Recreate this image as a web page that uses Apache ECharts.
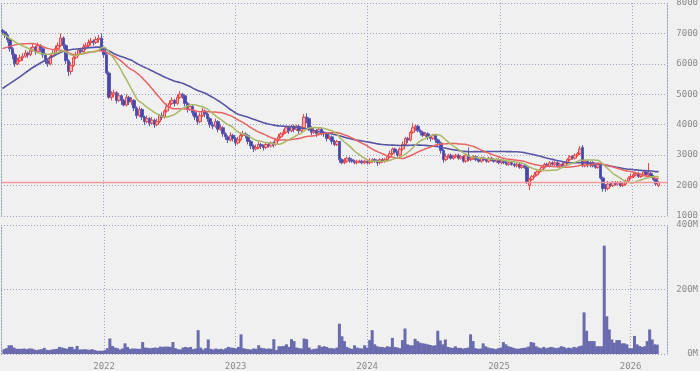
<!DOCTYPE html>
<html><head><meta charset="utf-8">
<script src="https://cdn.jsdelivr.net/npm/echarts@6/dist/echarts.min.js"></script>
<style>html,body{margin:0;padding:0;background:#f0f0f0}#c{width:700px;height:371px}</style>
</head><body><div id="c"></div>
<script>
// weekly candles [open, close, low, high]
const ohlc = [
[7100,7050,6950,7150],[7050,6950,6850,7100],[6950,6800,6700,7000],[6800,6500,6400,6850],[6500,6300,6150,6550],
[6300,6000,5900,6350],[6000,6100,5950,6200],[6100,6200,6050,6300],[6200,6250,6100,6350],[6250,6350,6200,6450],
[6350,6300,6200,6400],[6300,6450,6250,6550],[6450,6550,6400,6650],[6550,6400,6300,6600],[6400,6600,6350,6700],
[6600,6500,6400,6650],[6500,6300,6200,6550],[6300,6100,6000,6350],[6100,6000,5900,6150],[6000,6250,5950,6300],
[6250,6350,6200,6450],[6350,6500,6300,6600],[6500,6600,6450,6700],[6600,6850,6550,7000],[6850,6600,6500,6900],
[6600,6100,6000,6650],[6100,5750,5600,6150],[5750,5950,5650,6050],[5950,6200,5900,6300],[6200,6300,6150,6400],
[6300,6450,6250,6500],[6450,6400,6300,6500],[6400,6550,6350,6650],[6550,6600,6450,6700],[6600,6700,6550,6800],
[6700,6750,6600,6850],[6750,6700,6600,6800],[6700,6800,6650,6900],[6800,6850,6700,6950],[6850,6450,6400,7000],
[6450,6300,6200,6500],[6300,5700,5650,6350],[5700,4900,4850,5750],[4900,5000,4800,5100],[5000,5050,4900,5150],
[5050,4800,4700,5100],[4800,4950,4750,5050],[4950,4800,4650,5000],[4800,4650,4600,4850],[4650,4900,4600,5000],
[4900,4750,4650,4950],[4750,4800,4650,4900],[4800,4550,4450,4850],[4550,4300,4200,4600],[4300,4500,4250,4600],
[4500,4250,4150,4550],[4250,4100,4000,4300],[4100,4200,4050,4300],[4200,4050,3950,4250],[4050,4150,4000,4250],
[4150,4000,3900,4200],[4000,4100,3950,4200],[4100,4300,4050,4350],[4300,4250,4150,4400],[4250,4450,4200,4500],
[4450,4600,4400,4700],[4600,4700,4550,4800],[4700,4800,4650,4900],[4800,4700,4600,4850],[4700,4900,4650,5000],
[4900,5000,4850,5100],[5000,4950,4850,5050],[4950,4700,4600,5000],[4700,4500,4400,4750],[4500,4600,4450,4700],
[4600,4400,4300,4650],[4400,4250,4150,4450],[4250,4100,4000,4300],[4100,4300,4050,4400],[4300,4450,4250,4550],
[4450,4350,4250,4500],[4350,4200,4100,4400],[4200,4000,3900,4250],[4000,3950,3850,4100],[3950,4100,3900,4200],
[4100,3850,3750,4150],[3850,3900,3800,4000],[3900,3700,3600,3950],[3700,3600,3500,3750],[3600,3500,3400,3650],
[3500,3650,3450,3750],[3650,3550,3450,3700],[3550,3400,3300,3600],[3400,3500,3350,3600],[3500,3650,3450,3750],
[3650,3700,3600,3800],[3700,3650,3550,3750],[3650,3450,3350,3700],[3450,3300,3200,3500],[3300,3200,3100,3350],
[3200,3250,3150,3350],[3250,3350,3200,3450],[3350,3300,3200,3400],[3300,3250,3150,3350],[3250,3350,3200,3400],
[3350,3300,3250,3400],[3300,3400,3250,3450],[3400,3350,3250,3450],[3350,3500,3300,3550],[3500,3600,3450,3700],
[3600,3700,3550,3750],[3700,3750,3650,3850],[3750,3900,3700,3950],[3900,3800,3700,3950],[3800,3950,3750,4000],
[3950,3850,3750,4000],[3850,3950,3800,4000],[3950,3800,3700,4000],[3800,3900,3750,3950],[3900,4250,3850,4350],
[4250,4200,4050,4380],[4200,3900,3800,4250],[3900,3750,3650,3950],[3750,3800,3700,3900],[3800,3700,3600,3850],
[3700,3850,3650,3900],[3850,3750,3650,3900],[3750,3700,3600,3800],[3700,3550,3450,3750],[3550,3600,3500,3650],
[3600,3450,3350,3650],[3450,3350,3300,3500],[3350,3450,3300,3500],[3450,2850,2750,3450],[2850,2750,2700,2900],
[2750,2800,2700,2900],[2800,2900,2750,2950],[2900,2850,2750,2950],[2850,2800,2750,2900],[2800,2750,2700,2850],
[2750,2800,2700,2850],[2780,2800,2750,2850],[2800,2750,2700,2850],[2750,2800,2700,2850],[2800,2750,2700,2850],
[2750,2800,2700,2900],[2800,2850,2750,2900],[2850,2800,2750,2900],[2800,2750,2650,2850],[2750,2850,2700,2900],
[2850,2800,2750,2900],[2800,2850,2750,2900],[2850,2950,2800,3000],[2950,3050,2900,3150],[3050,3200,3000,3250],
[3200,3100,3050,3250],[3100,3000,2950,3150],[3000,3200,2950,3250],[3200,3350,3150,3450],[3350,3550,3300,3600],
[3550,3500,3400,3600],[3500,3750,3450,3800],[3750,3900,3700,4050],[3900,3950,3800,4000],[3950,3800,3750,4000],
[3800,3750,3650,3850],[3750,3650,3600,3800],[3650,3700,3600,3750],[3700,3600,3500,3750],[3600,3550,3450,3650],
[3550,3650,3500,3700],[3650,3500,3400,3700],[3500,3400,3300,3550],[3400,3150,3050,3450],[3150,2850,2750,3200],
[2850,2950,2800,3050],[2950,3000,2900,3050],[3000,2900,2850,3050],[2900,2950,2850,3000],[2950,3000,2900,3050],
[3000,2900,2850,3050],[2900,2950,2850,3000],[2950,2800,2750,3000],[2800,3000,2750,3050],[3000,2850,2800,3250],
[2850,2900,2800,2950],[2900,2950,2850,3000],[2950,2850,2800,3000],[2850,2800,2750,2900],[2800,2900,2750,2950],
[2900,2850,2800,2950],[2850,2800,2750,2900],[2800,2900,2750,2950],[2900,2850,2800,2950],[2850,2800,2750,2900],
[2800,2850,2750,2900],[2850,2750,2700,2900],[2750,2800,2700,2850],[2800,2750,2700,2850],[2750,2700,2650,2800],
[2700,2750,2650,2800],[2750,2700,2650,2800],[2700,2650,2600,2750],[2650,2700,2600,2750],[2700,2600,2550,2750],
[2600,2650,2550,2700],[2650,2600,2550,2700],[2600,2100,2050,2650],[2000,2200,1850,2250],[2200,2300,2150,2350],
[2300,2350,2250,2450],[2350,2450,2300,2500],[2450,2500,2400,2550],[2500,2600,2450,2650],[2600,2700,2550,2750],
[2700,2650,2600,2750],[2650,2750,2600,2800],[2750,2700,2650,2800],[2700,2750,2650,2800],[2750,2650,2600,2800],
[2650,2700,2600,2750],[2700,2650,2600,2750],[2650,2750,2600,2800],[2750,2850,2700,2900],[2850,2950,2800,3000],
[2950,2900,2850,3000],[2900,3000,2850,3050],[3000,3050,2950,3100],[3050,3200,3000,3300],[3250,2650,2600,3330],
[2650,2800,2600,2850],[2800,2700,2600,2850],[2700,2750,2600,2800],[2750,2650,2600,2800],[2650,2600,2550,2700],
[2600,2700,2550,2750],[2700,2250,2200,2750],[2250,1900,1800,2300],[1950,1900,1800,2050],[1900,2050,1850,2150],
[2050,2000,1950,2100],[2000,2100,1950,2150],[2100,2050,2000,2150],[2050,2100,2000,2150],[2100,2000,1950,2150],
[2000,2050,1950,2100],[2050,2150,2000,2200],[2150,2250,2100,2300],[2250,2300,2200,2400],[2300,2350,2250,2450],
[2350,2400,2300,2450],[2400,2300,2250,2450],[2300,2350,2250,2400],[2350,2450,2300,2500],[2450,2350,2300,2500],
[2350,2400,2300,2740],[2400,2300,2250,2450],[2300,2200,2150,2350],[2200,2050,2000,2250],[2000,2100,1950,2150]
];
// weekly volume, millions
const volumes = [
15,18,27,27,20,16,16,16,17,15, 17,17,14,12,14,15,19,13,12,14, 15,16,22,20,18,16,22,22,15,25,
14,14,15,14,13,15,12,10,10,10, 12,18,48,25,20,18,14,17,33,22, 16,17,17,16,16,37,20,19,18,19,
20,19,23,22,23,23,22,37,18,15, 14,20,22,20,22,15,17,74,20,14, 18,45,16,14,17,15,16,14,18,22,
20,19,17,22,61,18,16,15,14,17, 16,27,19,18,16,17,16,46,12,24, 24,25,30,22,46,40,20,18,17,48,
46,20,14,16,17,27,22,24,22,18, 18,17,20,94,55,40,22,18,16,27, 20,18,17,27,20,43,74,30,24,22,
22,20,24,22,50,22,20,18,43,79, 30,27,27,47,40,35,33,32,30,28, 26,27,72,42,30,45,22,20,19,24,
19,19,17,18,20,61,40,18,16,17, 33,24,20,18,17,15,18,20,37,30, 24,22,19,17,16,18,19,20,23,37,
35,24,20,18,22,18,20,22,20,18, 20,24,22,18,20,18,22,20,24,26, 129,72,40,40,40,24,24,24,336,117,
76,45,35,43,43,33,33,30,18,18, 56,30,25,22,24,40,76,45,30,29, 29
];
// moving-average values for the weeks before a full window exists: [week index, value]
const ma13Lead = [[0,7000],[6,6670]];
const ma26Lead = [[0,6500],[6,6640],[12,6670],[18,6500]];
const ma52Lead = [[0,5190],[6,5520],[12,5880],[19,6210],[25,6440],[31,6500],[38,6550],[45,6300]];
const firstWeek = [2021, 2, 29];
const refPrice = 2110;

const dates = ohlc.map((_, i) => new Date(firstWeek[0], firstWeek[1], firstWeek[2] + 7 * i).getTime());
const closes = ohlc.map(d => d[1]);
function maSeries(lead, w) {
  const out = lead.filter(p => p[0] < w - 1).map(p => [dates[p[0]], p[1]]);
  for (let i = w - 1; i < closes.length; i++) {
    let s = 0;
    for (let k = i - w + 1; k <= i; k++) s += closes[k];
    out.push([dates[i], Math.round(s / w)]);
  }
  return out;
}
const xMin = new Date(2021, 2, 25).getTime();
const xMax = new Date(2026, 3, 8).getTime();
const YEAR = 365 * 24 * 3600 * 1000;
const dotted = { color: '#9aa3c4', type: [1, 2], width: 1 };
const lbl = { color: '#8a8a8a', fontSize: 9, fontFamily: 'DejaVu Sans Mono' };

const chart = echarts.init(document.getElementById('c'), null, { renderer: 'canvas' });
function xAx(gi, showLabel) {
  return {
    type: 'time', gridIndex: gi, min: xMin, max: xMax,
    minInterval: YEAR, maxInterval: YEAR, splitNumber: 5,
    axisLine: { show: false }, axisTick: { show: false },
    axisLabel: { show: showLabel, ...lbl, margin: 8, formatter: v => String(new Date(v).getFullYear()), showMinLabel: false, showMaxLabel: false },
    splitLine: { show: true, lineStyle: dotted }
  };
}
chart.setOption({
  animation: false,
  backgroundColor: '#f0f0f0',
  grid: [
    { left: 1, right: 33, top: 3, height: 213, outerBoundsMode: 'none', containLabel: false },
    { left: 1, right: 33, top: 225, height: 129, outerBoundsMode: 'none', containLabel: false }
  ],
  xAxis: [xAx(0, false), xAx(1, true)],
  yAxis: [
    { type: 'value', gridIndex: 0, position: 'right', min: 1000, max: 8000, interval: 1000,
      axisLine: { show: true, lineStyle: dotted }, axisTick: { show: false },
      axisLabel: { ...lbl, align: 'right', margin: 31, formatter: v => String(v) }, splitLine: { show: true, lineStyle: dotted } },
    { type: 'value', gridIndex: 1, position: 'right', min: 0, max: 400, interval: 200,
      axisLine: { show: true, lineStyle: dotted }, axisTick: { show: false },
      axisLabel: { ...lbl, align: 'right', margin: 31, formatter: v => v + 'M' }, splitLine: { show: true, lineStyle: dotted } },
    { type: 'value', gridIndex: 0, position: 'left', min: 1000, max: 8000,
      axisLine: { show: true, lineStyle: dotted }, axisTick: { show: false }, axisLabel: { show: false }, splitLine: { show: false } },
    { type: 'value', gridIndex: 1, position: 'left', min: 0, max: 400,
      axisLine: { show: true, lineStyle: dotted }, axisTick: { show: false }, axisLabel: { show: false }, splitLine: { show: false } }
  ],
  series: [
    { type: 'candlestick', xAxisIndex: 0, yAxisIndex: 0, barWidth: 3,
      data: ohlc.map((d, i) => [dates[i], d[0], d[1], d[2], d[3]]),
      encode: { x: 0, y: [1, 2, 3, 4] },
      itemStyle: { color: '#f7b0b0', borderColor: '#ee4444', color0: '#4646aa', borderColor0: '#5a5ab4', borderWidth: 1 },
      markLine: { silent: true, symbol: 'none', label: { show: false },
        lineStyle: { color: '#f29a9a', type: 'solid', width: 1.3 }, data: [{ yAxis: refPrice }] }
    },
    { type: 'line', xAxisIndex: 0, yAxisIndex: 0, smooth: 0.3, showSymbol: false,
      data: maSeries(ma52Lead, 52), lineStyle: { color: '#5656a4', width: 1.6 }, z: 3 },
    { type: 'line', xAxisIndex: 0, yAxisIndex: 0, smooth: 0.3, showSymbol: false,
      data: maSeries(ma26Lead, 26), lineStyle: { color: '#ea6262', width: 1.5 }, z: 3 },
    { type: 'line', xAxisIndex: 0, yAxisIndex: 0, smooth: 0.3, showSymbol: false,
      data: maSeries(ma13Lead, 13), lineStyle: { color: '#a9b866', width: 1.5 }, z: 3 },
    { type: 'bar', xAxisIndex: 1, yAxisIndex: 1, barWidth: 3,
      data: volumes.map((v, i) => [dates[i], v]),
      itemStyle: { color: '#6a6aae' } }
  ]
});
</script></body></html>
